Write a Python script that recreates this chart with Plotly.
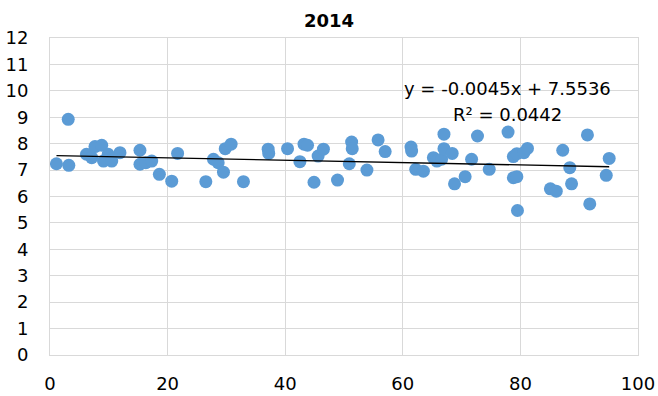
import plotly.graph_objects as go

x_vals = [3.1, 1.1, 3.2, 6.2, 7.1, 7.65, 8.8, 9.1, 9.9, 10.5, 11.9, 15.3, 15.3, 16.3, 17.3,
          18.6, 20.7, 21.7, 26.5, 27.8, 28.6, 29.5, 29.8, 30.8, 32.9, 37.1, 37.2, 40.4,
          42.5, 43.2, 43.8, 44.9, 45.6, 46.5, 48.9, 50.9, 51.3, 51.4, 53.9, 55.8, 57.0,
          61.4, 61.5, 62.2, 63.5, 65.2, 65.8, 66.6, 67.0, 67.0, 68.4, 68.8, 70.6, 71.7,
          72.7, 74.7, 77.9, 78.8, 78.8, 79.4, 79.4, 79.5, 80.6, 81.2, 85.1, 86.1, 87.2,
          88.4, 88.7, 91.4, 91.8, 94.6, 95.1]
y_vals = [8.92, 7.24, 7.18, 7.6, 7.47, 7.89, 7.94, 7.34, 7.6, 7.34, 7.66, 7.75, 7.22, 7.28, 7.34,
          6.84, 6.58, 7.63, 6.56, 7.41, 7.28, 6.92, 7.81, 7.98, 6.56, 7.79, 7.63, 7.81,
          7.32, 7.98, 7.94, 6.54, 7.53, 7.79, 6.62, 7.24, 8.06, 7.81, 7.0, 8.14, 7.70,
          7.87, 7.72, 7.03, 6.96, 7.47, 7.34, 7.41, 8.36, 7.81, 7.63, 6.48, 6.75, 7.41,
          8.29, 7.03, 8.44, 7.51, 6.71, 7.62, 6.75, 5.47, 7.66, 7.82, 6.29, 6.2, 7.75,
          7.09, 6.48, 8.33, 5.72, 6.8, 7.44]

slope = -0.0045
intercept = 7.5536
r_squared = 0.0442
title_text = "2014"
x_ticks = [0, 20, 40, 60, 80, 100]
y_ticks = list(range(0, 13))

x_min, x_max = min(x_vals), max(x_vals)
trend_x = [x_min, x_max]
trend_y = [slope * v + intercept for v in trend_x]

font_family = "DejaVu Sans, Arial, sans-serif"

fig = go.Figure()
fig.add_trace(go.Scatter(
    x=x_vals, y=y_vals, mode="markers",
    marker=dict(color="#5B9BD5", size=13, line=dict(width=0)),
    showlegend=False, hoverinfo="x+y"))
fig.add_trace(go.Scatter(
    x=trend_x, y=trend_y, mode="lines",
    line=dict(color="#000000", width=1.3),
    showlegend=False, hoverinfo="skip"))

fig.add_annotation(x=77.8, y=10.1, xref="x", yref="y",
                   text=f"y = {slope}x + {intercept}", showarrow=False,
                   font=dict(family=font_family, size=18, color="#000000"))
fig.add_annotation(x=77.8, y=9.11, xref="x", yref="y",
                   text=f"R² = {r_squared}", showarrow=False,
                   font=dict(family=font_family, size=18, color="#000000"))

fig.update_layout(
    width=658, height=396,
    margin=dict(l=50, r=20, t=38, b=41, autoexpand=False),
    paper_bgcolor="white", plot_bgcolor="white",
    font=dict(family=font_family, size=18, color="#000000"),
    title=dict(text=f"<b>{title_text}</b>", x=0.5, xanchor="center",
               y=0.948, yanchor="middle",
               font=dict(family=font_family, size=18, color="#000000")),
    xaxis=dict(range=[0, 100], tickvals=x_ticks, showgrid=True,
               gridcolor="#D9D9D9", gridwidth=1, zeroline=False,
               showline=True, linecolor="#D9D9D9", linewidth=1, mirror=True,
               ticks="", ticklabelstandoff=12, automargin=False,
               tickfont=dict(family=font_family, size=18, color="#000000")),
    yaxis=dict(range=[0, 12], tickvals=y_ticks, showgrid=True,
               gridcolor="#D9D9D9", gridwidth=1, zeroline=False,
               showline=True, linecolor="#D9D9D9", linewidth=1, mirror=True,
               ticks="", ticklabelstandoff=17, automargin=False,
               tickfont=dict(family=font_family, size=18, color="#000000")),
)

fig.write_html("out.html", config={"displayModeBar": False},
               post_script="document.body.style.margin='0';document.body.style.padding='0';")
